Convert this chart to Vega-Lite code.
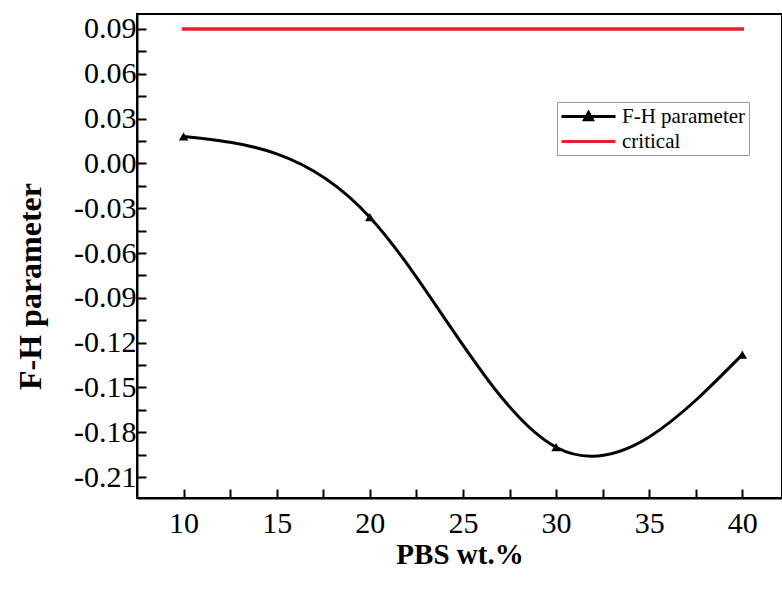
{
  "$schema": "https://vega.github.io/schema/vega-lite/v6.json",
  "width": 645,
  "height": 484,
  "autosize": {"type": "none"},
  "padding": {"left": 137, "top": 14, "right": 0, "bottom": 96},
  "background": "white",
  "config": {
    "font": "Liberation Serif",
    "view": {"stroke": "black", "strokeWidth": 2},
    "legend": {"strokeWidth": 1},
    "axis": {
      "grid": false,
      "domainColor": "black",
      "domainWidth": 2,
      "tickColor": "black",
      "tickWidth": 2,
      "tickSize": -9,
      "labelColor": "black",
      "titleColor": "black",
      "labelFont": "Liberation Serif",
      "titleFont": "Liberation Serif",
      "labelFontSize": 30,
      "titleFontSize": 29,
      "titleFontWeight": "bold",
      "labelOverlap": false
    }
  },
  "data": {
    "values": [
      {"series": "F-H parameter", "pbs": 10, "fh": 0.018},
      {"series": "F-H parameter", "pbs": 20, "fh": -0.036},
      {"series": "F-H parameter", "pbs": 30, "fh": -0.19},
      {"series": "F-H parameter", "pbs": 40, "fh": -0.128},
      {"series": "critical", "pbs": 10, "fh": 0.09},
      {"series": "critical", "pbs": 40, "fh": 0.09}
    ]
  },
  "encoding": {
    "x": {
      "field": "pbs",
      "type": "quantitative",
      "scale": {"domain": [7.5, 42.13], "nice": false, "zero": false},
      "axis": {
        "title": "PBS wt.%",
        "values": [10, 12.5, 15, 17.5, 20, 22.5, 25, 27.5, 30, 32.5, 35, 37.5, 40],
        "labelExpr": "datum.value % 5 === 0 ? datum.label : ''",
        "labelPadding": 19,
        "titleBaseline": "alphabetic",
        "titleY": 65,
        "encode": {"ticks": {"update": {"y2": {"signal": "datum.value % 5 === 0 ? -9 : -5"}}}}
      }
    },
    "y": {
      "field": "fh",
      "type": "quantitative",
      "scale": {"domain": [-0.224, 0.1], "nice": false, "zero": false},
      "axis": {
        "title": "F-H parameter",
        "titleFontSize": 32,
        "values": [-0.21, -0.195, -0.18, -0.165, -0.15, -0.135, -0.12, -0.105, -0.09, -0.075, -0.06, -0.045, -0.03, -0.015, 0, 0.015, 0.03, 0.045, 0.06, 0.075, 0.09],
        "labelExpr": "abs(round(datum.value * 1000) % 30) === 0 ? replace(format(datum.value, '.2f'), '\u2212', '-') : ''",
        "labelPadding": 10,
        "titleBaseline": "middle",
        "titleX": -107,
        "titleY": 272,
        "encode": {"ticks": {"update": {"x2": {"signal": "abs(round(datum.value * 1000) % 30) === 0 ? 9 : 5"}}}}
      }
    }
  },
  "layer": [
    {
      "transform": [{"filter": "datum.series === 'critical'"}],
      "mark": {"type": "line", "strokeWidth": 3.5, "strokeCap": "square"},
      "encoding": {
        "color": {
          "field": "series",
          "type": "nominal",
          "scale": {"domain": ["F-H parameter", "critical"], "range": ["black", "#e3212b"]},
          "legend": {
            "title": null,
            "orient": "none",
            "legendX": 420,
            "legendY": 88,
            "strokeColor": "#9a9a9a",
            "fillColor": "white",
            "padding": 3,
            "symbolSize": 400,
            "symbolOffset": 17,
            "symbolStrokeWidth": 3,
            "labelFont": "Liberation Serif",
            "labelFontSize": 21,
            "labelColor": "black",
            "labelOffset": 22,
            "rowPadding": 3,
            "encode": {
              "symbols": {
                "update": {
                  "shape": {"signal": "datum.value === 'critical' ? 'M-2.7,0H2.7' : 'M-2.7,0H2.7M-0.4,0.33L0,-0.4L0.4,0.33Z'"},
                  "fill": {"value": "black"}
                }
              }
            }
          }
        }
      }
    },
    {
      "transform": [{"filter": "datum.series === 'F-H parameter'"}],
      "mark": {"type": "line", "interpolate": "natural", "strokeWidth": 3},
      "encoding": {"color": {"field": "series", "type": "nominal"}}
    },
    {
      "transform": [{"filter": "datum.series === 'F-H parameter'"}],
      "mark": {"type": "point", "shape": "triangle-up", "filled": true, "size": 90, "color": "black", "opacity": 1}
    }
  ]
}
